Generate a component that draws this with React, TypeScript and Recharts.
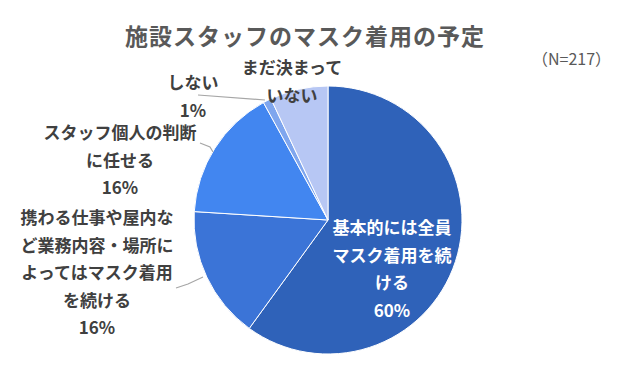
import React from 'react';
import { PieChart, Pie, Cell } from 'recharts';

const categories = [
  '基本的には全員マスク着用を続ける',
  '携わる仕事や屋内など業務内容・場所によってはマスク着用を続ける',
  'スタッフ個人の判断に任せる',
  'しない',
  'まだ決まっていない',
];
const shares = [60, 16, 16, 1, 7];
const shownPct = ['60%', '16%', '16%', '1%', ''];
const labelLines = [
  ['基本的には全員', 'マスク着用を続', 'ける'],
  ['携わる仕事や屋内な', 'ど業務内容・場所に', 'よってはマスク着用', 'を続ける'],
  ['スタッフ個人の判断', 'に任せる'],
  ['しない'],
  ['まだ決まって', 'いない'],
];
const colors = ['#2F62B9', '#3B74D7', '#4286F0', '#7FA6EE', '#B7C7F4'];

const data = categories.map((name, i) => ({ name, value: shares[i], pct: shownPct[i] }));

const FONT = '"Noto Sans CJK JP", "Noto Sans", sans-serif';
const LH = 27.6;

// label block placement (centre x, first baseline y) relative to pie centre
const labelPos = [
  { dx: 64, dy: 14, fill: '#FFFFFF' },
  { dx: -231, dy: 4, fill: '#404040' },
  { dx: -208, dy: -81, fill: '#404040' },
  { dx: -135, dy: -131, fill: '#404040' },
  { dx: -36, dy: -146, fill: '#404040' },
];
// leader lines: [from label side, to pie edge] relative to centre
const leaders: Record<number, number[][]> = {
  1: [[-152, 68], [-140, 64], [-125, 57]],
  2: [[-128, -77], [-118, -73], [-115, -68]],
  3: [[-130, -125], [-63, -120]],
};

const renderLabel = (props: any) => {
  const { cx, cy, index } = props;
  const p = labelPos[index];
  const lines = [...labelLines[index]];
  if (shownPct[index]) lines.push(shownPct[index]);
  const pts = leaders[index];
  return (
    <g key={`lab-${index}`}>
      {pts && (
        <polyline
          points={pts.map(([x, y]) => `${cx + x},${cy + y}`).join(' ')}
          fill="none"
          stroke="#A6A6A6"
          strokeWidth={1.2}
        />
      )}
      <text
        x={cx + p.dx}
        y={cy + p.dy}
        textAnchor="middle"
        fill={p.fill}
        fontFamily={FONT}
        fontSize={17}
        fontWeight={700}
      >
        {lines.map((l, i) => (
          <tspan key={i} x={cx + p.dx} dy={i === 0 ? 0 : LH}>
            {l}
          </tspan>
        ))}
      </text>
    </g>
  );
};

export default function App() {
  return (
    <div style={{ width: 632, height: 388, position: 'relative', background: '#fff' }}>
      <style>{'body{margin:0}'}</style>
      <div
        style={{
          position: 'absolute',
          top: 18,
          left: 0,
          width: 610,
          textAlign: 'center',
          fontFamily: FONT,
          fontSize: 23,
          fontWeight: 700,
          color: '#595959',
          letterSpacing: 1,
        }}
      >
        施設スタッフのマスク着用の予定
      </div>
      <div
        style={{
          position: 'absolute',
          top: 46,
          left: 532,
          fontFamily: FONT,
          fontSize: 16,
          color: '#595959',
        }}
      >
        （N=217）
      </div>
      <PieChart
        width={632}
        height={388}
        margin={{ top: 0, right: 0, bottom: 0, left: 0 }}
        style={{ position: 'absolute', top: 0, left: 0 }}
      >
        <Pie
          data={data}
          dataKey="value"
          nameKey="name"
          cx={328}
          cy={220}
          outerRadius={134}
          startAngle={90}
          endAngle={-270}
          stroke="#FFFFFF"
          strokeWidth={1}
          label={renderLabel}
          labelLine={false}
          isAnimationActive={false}
        >
          {data.map((d, i) => (
            <Cell key={d.name} fill={colors[i]} />
          ))}
        </Pie>
      </PieChart>
    </div>
  );
}
